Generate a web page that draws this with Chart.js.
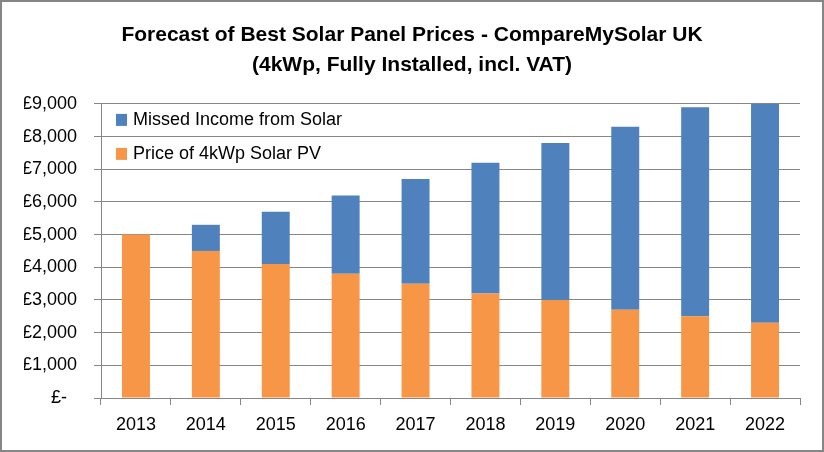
<!DOCTYPE html>
<html>
<head>
<meta charset="utf-8">
<script src="https://cdn.jsdelivr.net/npm/chart.js@4.4.0/dist/chart.umd.min.js"></script>
<style>
  html, body { margin: 0; padding: 0; background: #fff; }
  #wrap { width: 820px; height: 448px; border: 2px solid #868686; background: #fff; }
</style>
</head>
<body>
<div id="wrap"><canvas id="myChart" width="820" height="448"></canvas></div>
<script>
const years = ['2013', '2014', '2015', '2016', '2017', '2018', '2019', '2020', '2021', '2022'];
const priceOfPV = [5000, 4500, 4100, 3800, 3500, 3200, 3000, 2700, 2500, 2300];
const missedIncome = [0, 800, 1600, 2400, 3200, 4000, 4800, 5600, 6400, 7200];
const yTickValues = [0, 1000, 2000, 3000, 4000, 5000, 6000, 7000, 8000, 9000];

const gridGrey = '#868686';
const fontFamily = '"Liberation Sans", Arial, sans-serif';

function pounds(v) {
    if (v === 0) return '£-  ';
    return '£' + String(v).replace(/\B(?=(\d{3})+(?!\d))/g, ',');
}

// legend sits inside the plot area, top left
const legendInside = {
    id: 'legendInside',
    afterDatasetsDraw(chart) {
        const { ctx, chartArea } = chart;
        const items = [
            { label: 'Missed Income from Solar', color: '#4F81BD' },
            { label: 'Price of 4kWp Solar PV', color: '#F79646' },
        ];
        ctx.save();
        ctx.font = '18px ' + fontFamily;
        ctx.textBaseline = 'middle';
        items.forEach((it, i) => {
            const y = chartArea.top + 16 + i * 34;
            ctx.fillStyle = it.color;
            ctx.fillRect(chartArea.left + 15, y - 6, 11, 12);
            ctx.fillStyle = '#000';
            ctx.fillText(it.label, chartArea.left + 32, y);
        });
        ctx.restore();
    }
};

const ctx = document.getElementById('myChart');

new Chart(ctx, {
    type: 'bar',
    data: {
        labels: years,
        datasets: [
            {
                label: 'Price of 4kWp Solar PV',
                data: priceOfPV,
                backgroundColor: '#F79646',
                borderWidth: 0,
                barPercentage: 0.4,
                categoryPercentage: 1,
            },
            {
                label: 'Missed Income from Solar',
                data: missedIncome,
                backgroundColor: '#4F81BD',
                borderWidth: 0,
                barPercentage: 0.4,
                categoryPercentage: 1,
            },
        ],
    },
    options: {
        responsive: false,
        animation: false,
        layout: { padding: { left: 22, right: 22, top: 0, bottom: 0 } },
        scales: {
            x: {
                stacked: true,
                afterFit: (s) => { s.height = 52; },
                grid: {
                    offset: true,
                    drawOnChartArea: false,
                    drawTicks: true,
                    tickLength: 7,
                    color: gridGrey,
                },
                border: { display: true, color: gridGrey },
                ticks: {
                    color: '#000',
                    padding: 9,
                    font: { size: 18, family: fontFamily },
                },
            },
            y: {
                stacked: true,
                min: 0,
                max: 9000,
                afterFit: (s) => { s.width = 77; },
                afterBuildTicks: (s) => { s.ticks = yTickValues.map(v => ({ value: v })); },
                grid: {
                    color: gridGrey,
                    drawTicks: true,
                    tickLength: 7,
                },
                border: { display: true, color: gridGrey },
                ticks: {
                    color: '#000',
                    padding: 17,
                    font: { size: 18, family: fontFamily },
                    callback: (v) => pounds(v),
                },
            },
        },
        plugins: {
            legend: { display: false },
            tooltip: { enabled: false },
            title: {
                display: true,
                text: ['Forecast of Best Solar Panel Prices - CompareMySolar UK', '(4kWp, Fully Installed, incl. VAT)'],
                color: '#000',
                font: { size: 21, weight: 'bold', family: fontFamily, lineHeight: 1.45 },
                padding: { top: 18, bottom: 23 },
            },
        },
    },
    plugins: [legendInside],
});
</script>
</body>
</html>
